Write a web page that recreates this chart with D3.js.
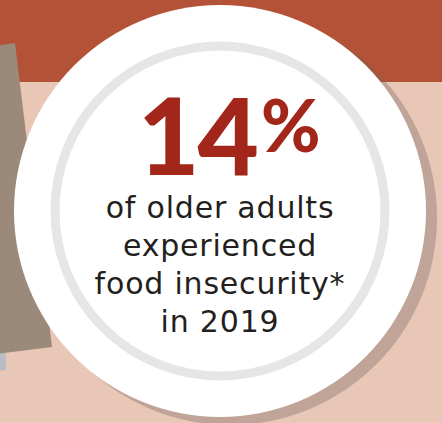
<!DOCTYPE html>
<html>
<head>
<meta charset="utf-8">
<script src="https://cdn.jsdelivr.net/npm/d3@7"></script>
<style>
  html, body { margin: 0; padding: 0; background: #e8c7b7; }
  svg { display: block; }
</style>
</head>
<body>
<div id="chart"></div>
<script>
var statValue = [14];
var statUnit = ["%"];
var captionLines = ["of older adults", "experienced", "food insecurity*", "in 2019"];

var width = 442, height = 423;
var cx = 220, cy = 211, r = 206;

var svg = d3.select('#chart')
    .append('svg')
    .attr('width', width)
    .attr('height', height);

// background: pink table + dark band on top
svg.append('rect').attr('width', width).attr('height', height).attr('fill', '#e8c7b7');
svg.append('rect').attr('width', width).attr('height', 82).attr('fill', '#b35236');

// napkin on the left + a bit of cutlery
svg.append('path')
    .attr('d', 'M-10,355 L6,345 L6,370 L-10,372 Z')
    .attr('fill', '#b9bdc5');
svg.append('path')
    .attr('d', 'M-5,46 L15,43 L52,347 L-5,354 Z')
    .attr('fill', '#9b8979');

// plate shadow, plate, rim
svg.append('circle')
    .attr('cx', cx + 10).attr('cy', cy + 7).attr('r', r + 1)
    .attr('fill', 'rgb(115,99,93)').attr('fill-opacity', 0.35);
svg.append('circle')
    .attr('cx', cx).attr('cy', cy).attr('r', r)
    .attr('fill', '#ffffff');
svg.append('circle')
    .attr('cx', cx).attr('cy', cy).attr('r', 165)
    .attr('fill', 'none')
    .attr('stroke', '#e6e6e6')
    .attr('stroke-width', 9);

// big number
var big = svg.append('text')
    .attr('y', 175)
    .attr('fill', '#a3261a')
    .style('font-family', 'Lato, "Open Sans", sans-serif')
    .style('font-weight', 900);

big.selectAll('tspan.num')
    .data(statValue)
    .enter()
    .append('tspan')
    .attr('class', 'num')
    .attr('x', 138)
    .style('font-size', '106px')
    .style('letter-spacing', '-2px')
    .text(function (d) { return d; });

big.selectAll('tspan.unit')
    .data(statUnit)
    .enter()
    .append('tspan')
    .attr('class', 'unit')
    .attr('dx', 4)
    .attr('dy', -23)
    .style('font-size', '72px')
    .text(function (d) { return d; });

// caption
var lineY = d3.scaleLinear().domain([0, 1]).range([218, 256]);

svg.selectAll('text.caption')
    .data(captionLines)
    .enter()
    .append('text')
    .attr('class', 'caption')
    .attr('x', cx)
    .attr('y', function (d, i) { return lineY(i); })
    .attr('text-anchor', 'middle')
    .attr('fill', '#231f20')
    .style('font-family', '"DejaVu Sans", sans-serif')
    .style('font-size', '30px')
    .style('letter-spacing', '0.8px')
    .text(function (d) { return d; });
</script>
</body>
</html>
